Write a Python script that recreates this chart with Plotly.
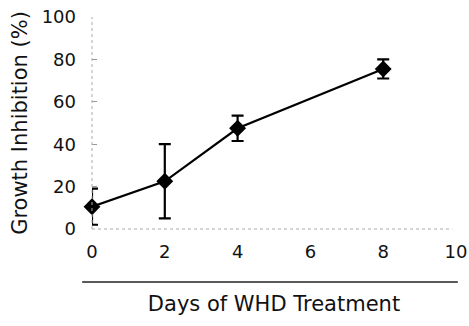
import plotly.graph_objects as go

days = [0, 2, 4, 8]
inhibition = [10.5, 22.5, 47.5, 75.5]
sd = [8.5, 17.5, 6.0, 4.5]
x_ticks = [0, 2, 4, 6, 8, 10]
y_ticks = [0, 20, 40, 60, 80, 100]

fig = go.Figure()
fig.add_trace(go.Scatter(
    x=days, y=inhibition, mode="lines+markers",
    line=dict(color="black", width=2.2),
    marker=dict(symbol="diamond", size=13, color="black"),
    error_y=dict(type="data", array=sd, visible=True, color="black", thickness=2.2, width=6),
    cliponaxis=False, showlegend=False,
))

font = "DejaVu Sans"
fig.update_layout(
    width=469, height=326,
    margin=dict(l=92, r=13, t=17, b=97),
    paper_bgcolor="white", plot_bgcolor="white",
    font=dict(family=font, color="#111111", size=18),
    xaxis=dict(range=[0, 10], tickvals=x_ticks, ticktext=[str(v) for v in x_ticks],
               showgrid=False, zeroline=False, showline=False, ticks="", automargin=False,
               ticklabelstandoff=10, ticklabeloverflow="allow", tickfont=dict(size=18),
               title=dict(text="Days of WHD Treatment", font=dict(size=21), standoff=35)),
    yaxis=dict(range=[0, 100], tickvals=y_ticks, ticktext=[str(v) for v in y_ticks],
               showgrid=False, zeroline=False, showline=False, automargin=False,
               ticks="inside", ticklen=5, tickcolor="#999999", tickwidth=1,
               ticklabelstandoff=15, ticklabeloverflow="allow", tickfont=dict(size=18),
               title=dict(text="Growth Inhibition (%)", font=dict(size=21), standoff=8)),
    shapes=[
        dict(type="line", xref="paper", yref="paper", x0=0, x1=0, y0=0, y1=1,
             line=dict(color="#aaaaaa", width=1, dash="dot")),
        dict(type="line", xref="paper", yref="paper", x0=0, x1=0.99, y0=0, y1=0,
             line=dict(color="#aaaaaa", width=1, dash="dot")),
        dict(type="line", xref="paper", yref="paper", x0=-0.027, x1=1.005, y0=-0.25, y1=-0.25,
             line=dict(color="#222222", width=1.5)),
    ],
)

fig.write_html(
    "out.html",
    config={"displayModeBar": False},
    post_script="document.body.style.margin='0';document.documentElement.style.overflow='hidden';",
)
